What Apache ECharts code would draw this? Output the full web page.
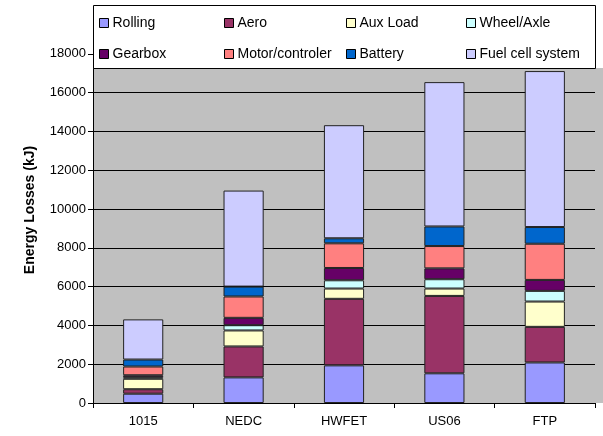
<!DOCTYPE html>
<html>
<head>
<meta charset="utf-8">
<script src="https://cdn.jsdelivr.net/npm/echarts@6/dist/echarts.min.js"></script>
<style>html,body{margin:0;padding:0;background:#fff}#c{width:603px;height:436px}</style>
</head>
<body>
<div id="c"></div>
<script>
var categories = ['1015', 'NEDC', 'HWFET', 'US06', 'FTP'];
var seriesNames = ['Rolling', 'Aero', 'Aux Load', 'Wheel/Axle', 'Gearbox', 'Motor/controler', 'Battery', 'Fuel cell system'];
var rolling   = [480, 1320, 1940, 1530, 2090];
var aero      = [230, 1595, 3430, 3990, 1835];
var auxLoad   = [540, 825, 530, 380, 1305];
var wheelAxle = [80, 270, 425, 480, 550];
var gearbox   = [100, 380, 635, 560, 565];
var motor     = [450, 1100, 1270, 1150, 1865];
var battery   = [360, 510, 260, 1010, 860];
var fuelCell  = [2070, 4950, 5830, 7440, 8040];
var yTicks = [0, 2000, 4000, 6000, 8000, 10000, 12000, 14000, 16000, 18000];

var colors = ['#9999FF', '#993366', '#FFFFCC', '#CCFFFF', '#660066', '#FF8080', '#0066CC', '#CCCCFF'];
var values = [rolling, aero, auxLoad, wheelAxle, gearbox, motor, battery, fuelCell];

var font = 'Liberation Sans, Arial, sans-serif';
var legendPos = [
  [99, 15], [224, 15], [346, 15], [466, 15],
  [99, 46], [224, 46], [346, 46], [466, 46]
];

var chart = echarts.init(document.getElementById('c'), null, {renderer: 'canvas'});
var option = {
  animation: false,
  backgroundColor: '#ffffff',
  grid: {left: 93, right: 8, top: 15, bottom: 33, show: true, backgroundColor: '#C0C0C0', borderWidth: 0},
  graphic: {elements: [
    {type: 'rect', z: 100, shape: {x: 595, y: 68, width: 8, height: 335}, style: {fill: '#C0C0C0'}},
    {type: 'rect', z: 100, shape: {x: 84, y: 10, width: 9, height: 10}, style: {fill: '#ffffff'}},
    {type: 'rect', z: 101, shape: {x: 93.5, y: 5.5, width: 502, height: 63}, style: {fill: '#ffffff', stroke: '#000000', lineWidth: 1}},
    {type: 'text', z: 101, rotation: Math.PI / 2, x: 30, y: 210,
     style: {text: 'Energy Losses (kJ)', font: 'bold 14px ' + font, fill: '#000', align: 'center', verticalAlign: 'middle'}}
  ]},
  legend: seriesNames.map(function (n, i) {
    return {
      data: [n], left: legendPos[i][0], top: legendPos[i][1], z: 200,
      itemWidth: 9, itemHeight: 9, itemGap: 4, padding: 0, icon: 'rect',
      textStyle: {fontFamily: font, fontSize: 14, lineHeight: 16, color: '#000', padding: [0, 0, 0, -1]},
      itemStyle: {borderColor: '#000', borderWidth: 1}
    };
  }),
  xAxis: {
    type: 'category', data: categories,
    axisLine: {lineStyle: {color: '#000', width: 1}},
    axisTick: {show: true, length: 5, lineStyle: {color: '#000'}},
    axisLabel: {fontFamily: font, fontSize: 13, color: '#000', margin: 12}
  },
  yAxis: {
    type: 'value', min: 0, max: 20000, interval: 2000,
    axisLine: {show: true, lineStyle: {color: '#000', width: 1}},
    axisTick: {show: true, length: 5, lineStyle: {color: '#000'}},
    splitLine: {show: true, lineStyle: {color: '#000', width: 1}},
    axisLabel: {fontFamily: font, fontSize: 13, color: '#000', margin: 7,
      formatter: function (v) { return yTicks.indexOf(v) >= 0 ? String(v) : ''; }}
  },
  series: seriesNames.map(function (n, i) {
    return {
      name: n, type: 'bar', stack: 'total', data: values[i], barWidth: '40%',
      itemStyle: {color: colors[i], borderColor: '#222', borderWidth: 1}
    };
  })
};
chart.setOption(option);
</script>
</body>
</html>
